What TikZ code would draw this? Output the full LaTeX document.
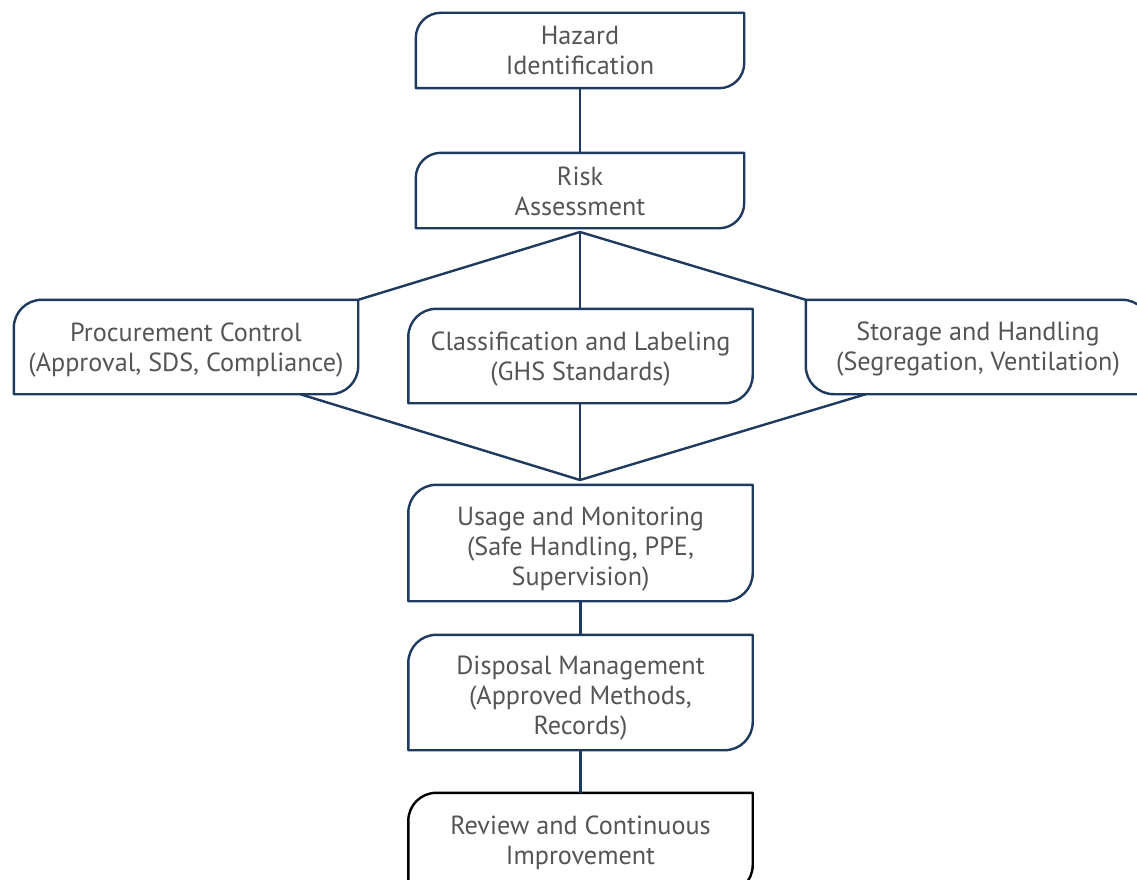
\documentclass[tikz,border=0pt]{standalone}
\usepackage{fontspec}
\setmainfont{PT Sans}
\definecolor{navy}{HTML}{1F3A5F}
\definecolor{txt}{HTML}{555555}
\tikzset{
  box/.style={rectangle, draw=none, inner sep=0pt, text=txt,
    font=\fontsize{26.2}{30}\selectfont},
  edge/.style={draw=navy, line width=2.4pt},
  outl/.style={line width=2.4pt, line join=round},
}
\newcommand{\tx}[2][0pt]{\raisebox{-#1}[\height][\depth]{\begin{tabular}{@{}c@{}}#2\end{tabular}}}
\newcommand{\shapeA}[3][navy]{% TL and BR rounded
  \draw[outl,draw=#1] (#2.south west) -- ([yshift=-#3]#2.north west)
    arc[start angle=180,end angle=90,radius=#3] -- (#2.north east)
    -- ([yshift=#3]#2.south east) arc[start angle=0,end angle=-90,radius=#3] -- cycle;}
\newcommand{\shapeB}[3][navy]{% TR and BL rounded
  \draw[outl,draw=#1] (#2.north west) -- ([xshift=-#3]#2.north east)
    arc[start angle=90,end angle=0,radius=#3] -- (#2.south east)
    -- ([xshift=#3]#2.south west) arc[start angle=270,end angle=180,radius=#3] -- cycle;}
\begin{document}
\begin{tikzpicture}[x=1pt,y=-1pt]
\useasboundingbox (0,0) rectangle (1137,880);
\clip (0,0) rectangle (1137,880);
\fill[white] (0,0) rectangle (1137,880);
\node[box, minimum width=328pt, minimum height=75pt] (haz) at (580,50.5) {\tx[3.5pt]{Hazard\\Identification}};
\node[box, minimum width=328pt, minimum height=75pt] (risk) at (580,190.5) {\tx[3.5pt]{Risk\\Assessment}};
\node[box, minimum width=344pt, minimum height=94pt] (proc) at (186,347) {\tx[3pt]{Procurement Control\\(Approval, SDS, Compliance)}};
\node[box, minimum width=344pt, minimum height=94pt] (cls) at (580.5,356) {\tx[3pt]{Classification and Labeling\\(GHS Standards)}};
\node[box, minimum width=344pt, minimum height=94pt] (stor) at (978,347) {\tx[2pt]{Storage and Handling\\(Segregation, Ventilation)}};
\node[box, minimum width=344pt, minimum height=116pt] (use) at (580.5,543) {\tx[6pt]{Usage and Monitoring\\(Safe Handling, PPE,\\Supervision)}};
\node[box, minimum width=344pt, minimum height=115pt] (disp) at (580.5,692.5) {\tx[6pt]{Disposal Management\\(Approved Methods,\\Records)}};
\node[box, minimum width=344pt, minimum height=100pt] (rev) at (580.5,843) {\tx[0pt]{Review and Continuous\\Improvement}};
\coordinate (j) at (580,480);
\coordinate (rb) at (580,232);
\shapeA{haz}{25pt}
\shapeA{risk}{25pt}
\shapeA{proc}{28pt}
\shapeA{cls}{28pt}
\shapeB{stor}{28pt}
\shapeA{use}{28pt}
\shapeA{disp}{28pt}
\shapeA[black]{rev}{28pt}
\draw[edge] (haz.south) -- (risk.north);
\draw[edge] (rb) -- (proc.north east);
\draw[edge] (rb) -- (rb |- cls.north);
\draw[edge] (rb) -- (stor.north west);
\draw[edge] ([xshift=-58pt]proc.south east) -- (j);
\draw[edge] (j |- cls.south) -- (j);
\draw[edge] ([xshift=60pt]stor.south west) -- (j);
\draw[edge] (use.south) -- (disp.north);
\draw[edge] (disp.south) -- (rev.north);
\end{tikzpicture}
\end{document}
